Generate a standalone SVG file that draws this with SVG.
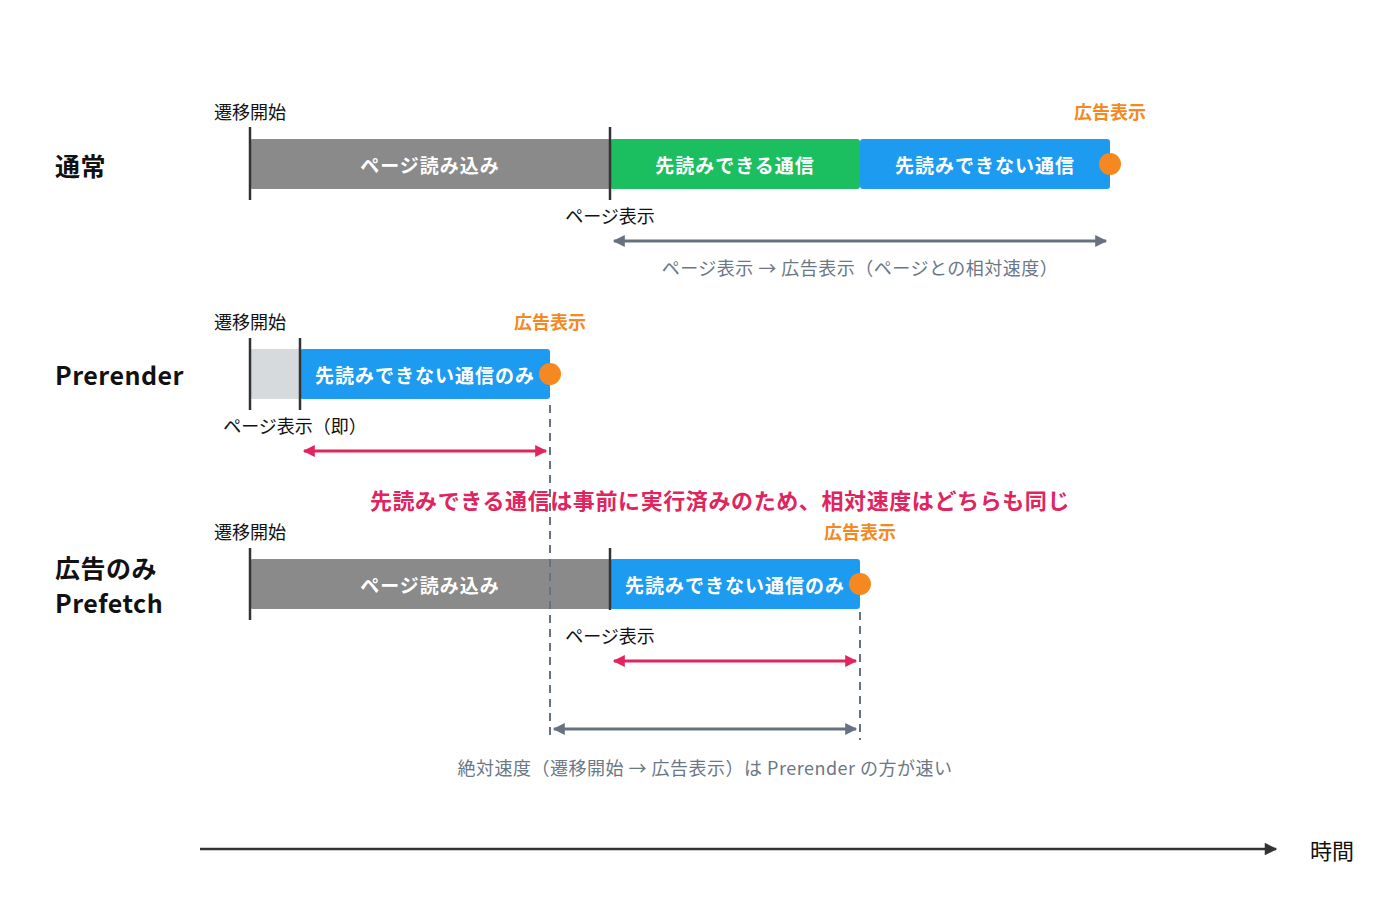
<svg xmlns="http://www.w3.org/2000/svg" width="1400" height="919" viewBox="0 0 1400 919">
<style>
text{font-family:"Noto Sans CJK JP","Noto Sans",sans-serif;dominant-baseline:central}
.bt{fill:#fff;font-size:19px;font-weight:bold;text-anchor:middle;letter-spacing:1px}
.lb{font-size:18px;fill:#111;text-anchor:middle}
.ad{font-size:18px;fill:#f5891f;font-weight:bold;text-anchor:middle}
.hd{font-size:25px;font-weight:bold;fill:#111;letter-spacing:0.5px}
.cap{font-size:18px;fill:#6b7785;text-anchor:middle;letter-spacing:0.5px}
.tk{stroke:#333;stroke-width:2.5}
.gy{stroke:#66727f;stroke-width:3}
.rd{stroke:#e0245e;stroke-width:3}
.ds{stroke:#66727f;stroke-width:2;stroke-dasharray:8,6}
</style>
<defs>
<marker id="ag" viewBox="0 0 10 10" refX="9" refY="5" markerWidth="5" markerHeight="4" orient="auto-start-reverse"><path d="M0,0L10,5L0,10z" fill="#66727f"/></marker>
<marker id="ar" viewBox="0 0 10 10" refX="9" refY="5" markerWidth="5" markerHeight="4" orient="auto-start-reverse"><path d="M0,0L10,5L0,10z" fill="#e0245e"/></marker>
<marker id="ak" viewBox="0 0 10 10" refX="9" refY="5" markerWidth="6" markerHeight="5" orient="auto"><path d="M0,0L10,5L0,10z" fill="#333"/></marker>
</defs>
<rect width="1400" height="919" fill="#fff"/>
<g id="row1">
<text class="hd" x="55" y="165">通常</text>
<rect x="250" y="139" width="362" height="50" rx="3" fill="#8a8a8a"/>
<rect x="610" y="139" width="250" height="50" rx="3" fill="#1bbf5f"/>
<rect x="860" y="139" width="250" height="50" rx="3" fill="#1d9bf0"/>
<text class="bt" x="430" y="164">ページ読み込み</text>
<text class="bt" x="735" y="164">先読みできる通信</text>
<text class="bt" x="985" y="164">先読みできない通信</text>
<circle cx="1110" cy="164" r="11" fill="#f5891f"/>
<line class="tk" x1="250" y1="127" x2="250" y2="200"/>
<line class="tk" x1="610" y1="127" x2="610" y2="200"/>
<text class="lb" x="250" y="111">遷移開始</text>
<text class="ad" x="1110" y="111">広告表示</text>
<text class="lb" x="610" y="215">ページ表示</text>
<text class="cap" x="860" y="267">ページ表示 → 広告表示（ページとの相対速度）</text>
</g>
<g id="row2">
<text class="hd" x="55" y="374">Prerender</text>
<rect x="250" y="349" width="52" height="50" rx="3" fill="#d6dadd"/>
<rect x="300" y="349" width="250" height="50" rx="3" fill="#1d9bf0"/>
<text class="bt" x="425" y="374">先読みできない通信のみ</text>
<circle cx="550" cy="374" r="11" fill="#f5891f"/>
<line class="tk" x1="250" y1="338" x2="250" y2="410"/>
<line class="tk" x1="300" y1="338" x2="300" y2="410"/>
<text class="lb" x="250" y="321">遷移開始</text>
<text class="ad" x="550" y="321">広告表示</text>
<text class="lb" x="295" y="425">ページ表示（即）</text>
</g>
<text x="720" y="499" font-size="22" font-weight="bold" fill="#e0245e" text-anchor="middle" letter-spacing="0.6">先読みできる通信は事前に実行済みのため、相対速度はどちらも同じ</text>
<g id="row3">
<text class="hd" x="55" y="567">広告のみ</text>
<text class="hd" x="55" y="602">Prefetch</text>
<rect x="250" y="559" width="362" height="50" rx="3" fill="#8a8a8a"/>
<rect x="610" y="559" width="250" height="50" rx="3" fill="#1d9bf0"/>
<text class="bt" x="430" y="584">ページ読み込み</text>
<text class="bt" x="735" y="584">先読みできない通信のみ</text>
<circle cx="860" cy="584" r="11" fill="#f5891f"/>
<line class="tk" x1="250" y1="548" x2="250" y2="620"/>
<line class="tk" x1="610" y1="548" x2="610" y2="610"/>
<text class="lb" x="250" y="531">遷移開始</text>
<text class="ad" x="860" y="531">広告表示</text>
<text class="lb" x="610" y="635">ページ表示</text>
<text class="cap" x="705" y="767" letter-spacing="1">絶対速度（遷移開始 → 広告表示）は Prerender の方が速い</text>
</g>
<g id="connectors">
<line class="gy" x1="614" y1="241" x2="1106" y2="241" marker-start="url(#ag)" marker-end="url(#ag)"/>
<line class="rd" x1="304" y1="451" x2="546" y2="451" marker-start="url(#ar)" marker-end="url(#ar)"/>
<line class="ds" x1="550" y1="405" x2="550" y2="740"/>
<line class="ds" x1="860" y1="612" x2="860" y2="740"/>
<line class="rd" x1="614" y1="661" x2="856" y2="661" marker-start="url(#ar)" marker-end="url(#ar)"/>
<line class="gy" x1="554" y1="729" x2="856" y2="729" marker-start="url(#ag)" marker-end="url(#ag)"/>
<line x1="200" y1="849" x2="1276" y2="849" stroke="#333" stroke-width="2.5" marker-end="url(#ak)"/>
</g>
<text x="1332" y="849" font-size="22" fill="#111" text-anchor="middle">時間</text>
</svg>
